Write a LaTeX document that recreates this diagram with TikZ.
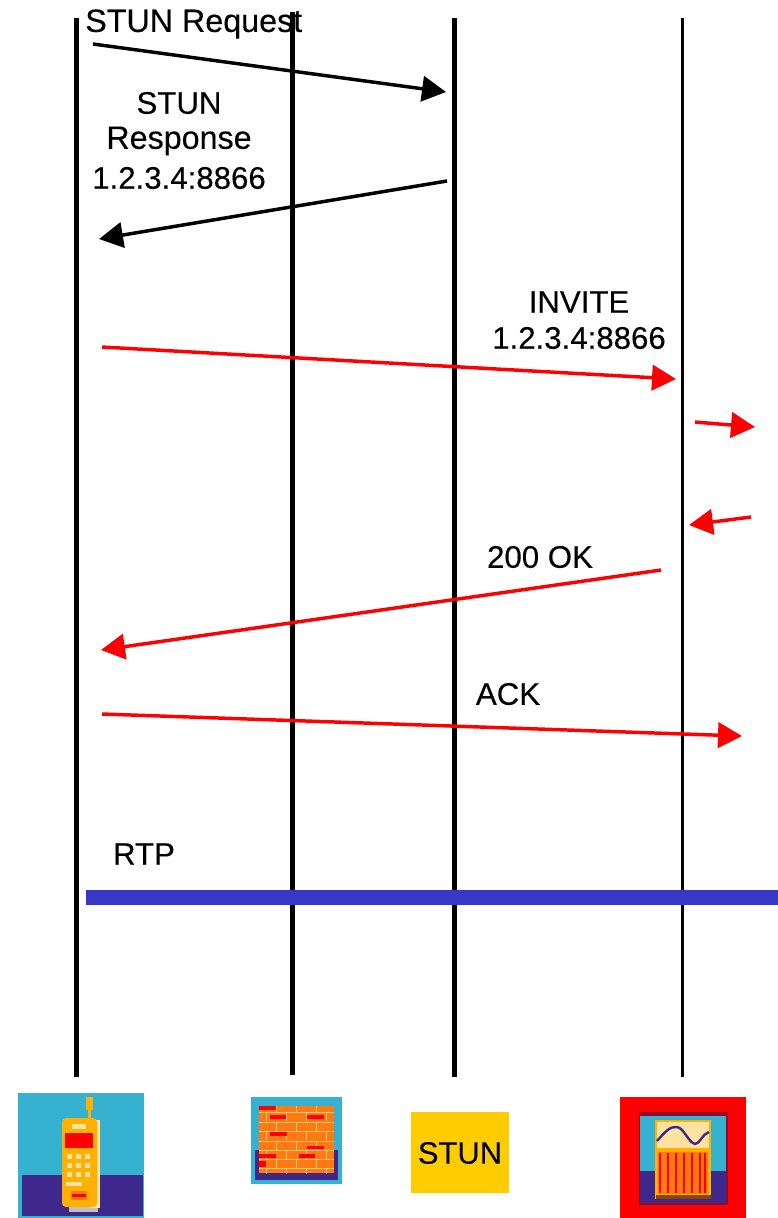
\documentclass[tikz,border=0pt]{standalone}
\usepackage{fontspec}
\setmainfont{Liberation Sans}[FakeBold=0.12]
\newfontfamily\lblfont{Liberation Sans}[FakeBold=0.25]
\usetikzlibrary{arrows.meta}
\definecolor{sky}{RGB}{54,178,208}
\definecolor{deep}{RGB}{62,40,140}
\definecolor{rtpblue}{RGB}{56,56,200}
\definecolor{amber}{RGB}{255,176,0}
\definecolor{stungold}{RGB}{255,204,0}
\definecolor{brick}{RGB}{255,122,16}
\definecolor{cream}{RGB}{255,226,160}
\tikzset{
 life/.style={line width=3.9pt,black},
 lifethin/.style={line width=2.9pt,black},
 msgk/.style={line width=2.6pt,black,-{Triangle[length=18pt,width=19pt]}},
 msgr/.style={line width=2.6pt,red,-{Triangle[length=18pt,width=19pt]}},
 lbl/.style={font=\lblfont\fontsize{23.4}{28}\selectfont,align=center,inner sep=0pt,text=black},
 lblw/.style={font=\lblfont\fontsize{24.2}{28}\selectfont,align=center,inner sep=0pt,text=black},
}
\begin{document}
\begin{tikzpicture}[x=0.75pt,y=-0.75pt]
\useasboundingbox (0,0) rectangle (778,1218);
% lifelines
\foreach \n/\x/\t/\b in {a/76.5/18/1077,b/292.5/12/1075,c/454.5/18/1077,d/682.5/18/1077}{
  \coordinate (\n t) at (\x,\t);
  \coordinate (\n b) at (\x,\b);
}
\draw[life] (at) -- (ab);
\draw[life] (bt) -- (bb);
\draw[life] (ct) -- (cb);
\draw[lifethin] (dt) -- (db);
% RTP
\coordinate (rs) at (86,897.5); \coordinate (re) at (778,897.5);
\draw[rtpblue,line width=11.2pt] (rs) -- (re);
% messages
\coordinate (m1s) at (93,44); \coordinate (m1e) at (446,92);
\coordinate (m2s) at (447,181); \coordinate (m2e) at (99,239);
\coordinate (m3s) at (102,347); \coordinate (m3e) at (676,379);
\coordinate (m4s) at (695,422); \coordinate (m4e) at (755,427);
\coordinate (m5s) at (751,517); \coordinate (m5e) at (689,525);
\coordinate (m6s) at (661,570); \coordinate (m6e) at (101,650);
\coordinate (m7s) at (102,714); \coordinate (m7e) at (742,736);
\draw[msgk] (m1s) -- (m1e);
\draw[msgk] (m2s) -- (m2e);
\draw[msgr] (m3s) -- (m3e);
\draw[msgr] (m4s) -- (m4e);
\draw[msgr] (m5s) -- (m5e);
\draw[msgr] (m6s) -- (m6e);
\draw[msgr] (m7s) -- (m7e);
% labels
\node[lblw,anchor=west] (l1) at (85,24) {STUN Request};
\node[lbl] (l2a) at (179,103) {STUN};
\node[lblw] (l2b) at (179,141) {Response};
\node[lbl] (l2c) at (179,178) {1.2.3.4:8866};
\node[lbl] (l3a) at (579,302) {INVITE};
\node[lbl] (l3b) at (579,338) {1.2.3.4:8866};
\node[lbl] (l4) at (540,557) {200 OK};
\node[lbl] (l5) at (508,694) {ACK};
\node[lbl] (l6) at (144,854) {RTP};
% phone
\fill[sky] (18,1093) rectangle (144,1218);
\fill[deep] (22,1175) rectangle (143,1216);
\fill[amber] (86,1097) rectangle (93,1110);
\fill[amber] (87.5,1110) rectangle (91,1120);
\fill[black!25] (69,1205) rectangle (98,1212);
\fill[cream] (90,1120) rectangle (100,1208);
\fill[amber,rounded corners=3pt] (62,1118) rectangle (97,1207);
\fill[red] (65,1133) rectangle (93,1148);
\fill[cream] (72,1124) rectangle (86,1129);
\foreach \x in {69,78,87}{\foreach \y in {1156,1165,1174}{\fill[cream] (\x-2.5,\y-2.5) rectangle (\x+2.5,\y+2.5);}}
\fill[cream] (66,1182) rectangle (82,1186);
\fill[brick] (71,1191) rectangle (87,1200);
\fill[red] (72,1194) rectangle (86,1197);
% firewall
\fill[sky] (251,1097) rectangle (342,1184);
\fill[deep] (255,1150) rectangle (338,1180);
\fill[brick] (259,1106) rectangle (334,1173);
\begin{scope}
\clip (259,1106) rectangle (334,1173);
\foreach \y in {1112,1122,1131,1141,1150,1159,1168}{\draw[cream,opacity=.7,line width=0.7pt] (259,\y) -- (334,\y);}
\foreach \x in {276,296,316}{\foreach \y in {1103,1122,1141,1159}{\draw[cream,opacity=.7,line width=0.7pt] (\x,\y) -- (\x,\y+9);}}
\foreach \x in {266,286,306,326}{\foreach \y in {1112,1131,1150,1168}{\draw[cream,opacity=.7,line width=0.7pt] (\x,\y) -- (\x,\y+9);}}
\fill[red] (259,1106) rectangle (276,1110);
\fill[red] (270,1115) rectangle (286,1119);
\fill[red] (307,1115) rectangle (324,1119);
\fill[red] (270,1132) rectangle (287,1136);
\fill[red] (307,1146) rectangle (324,1149);
\fill[red] (259,1154) rectangle (276,1158);
\fill[red] (299,1154) rectangle (315,1158);
\fill[red] (259,1161) rectangle (266,1167);
\end{scope}
% STUN box
\fill[stungold] (411,1112) rectangle (509,1193);
\node[font=\lblfont\fontsize{23.2}{27}\selectfont,inner sep=0pt] (stun) at (460,1153) {STUN};
% server
\fill[red] (620,1097) rectangle (746,1218);
\fill[black!30!red!70!deep] (639,1112) rectangle (728,1205);
\fill[sky] (640,1116) rectangle (726,1171);
\fill[deep] (640,1171) rectangle (726,1203);
\fill[amber] (655,1120) rectangle (711,1199);
\fill[black!45!brick] (656,1195) rectangle (711,1199);
\fill[cream] (657,1122) rectangle (709,1148);
\draw[deep,line width=1.8pt] (657,1141) .. controls (665,1132) and (670,1126) .. (677,1127) .. controls (684,1128) and (688,1142) .. (695,1144) .. controls (700,1144) and (702,1134) .. (709,1132);
\fill[brick] (658,1152) rectangle (708,1194);
\foreach \x in {660,668,676,684,692,700,705}{\fill[red] (\x-1,1153) rectangle (\x+1,1193);}
\end{tikzpicture}
\end{document}
